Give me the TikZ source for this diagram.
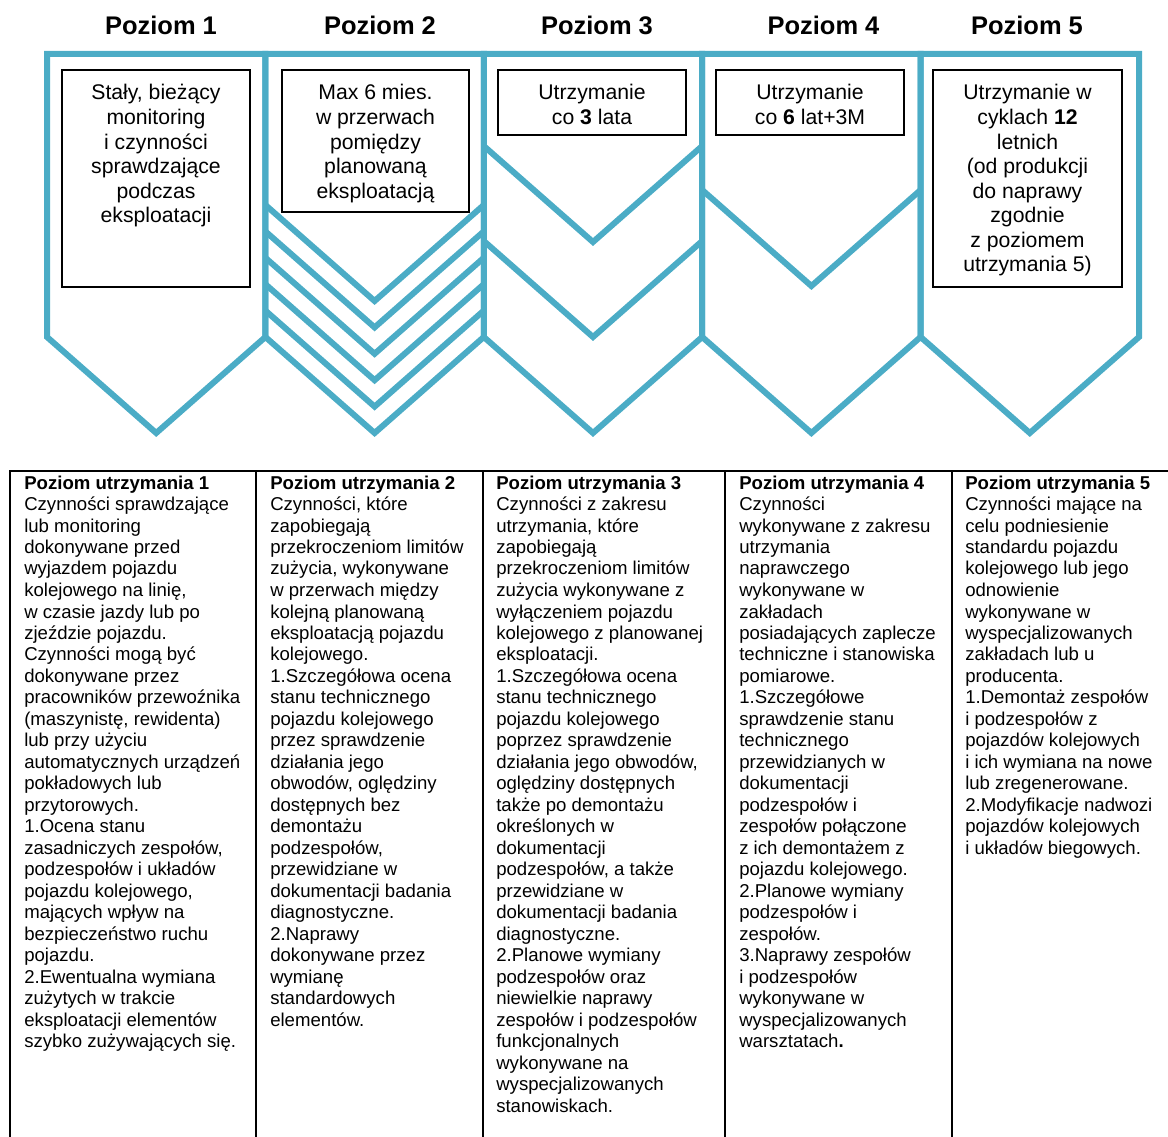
\documentclass[tikz,border=0pt]{standalone}
\usepackage{fontspec}
\setmainfont{Liberation Sans}
\definecolor{tealc}{HTML}{4BACC6}
\begin{document}
\begin{tikzpicture}[x=0.75pt,y=-0.75pt,
  pent/.style={draw=tealc, line width=4.5pt, line join=miter},
  chev/.style={draw=tealc, line width=4.5pt, line join=miter},
  tbox/.style={draw=black, line width=1.5pt},
  tabline/.style={draw=black, line width=1.6pt},
  head/.style={anchor=base, inner sep=0pt, font=\fontsize{19.1pt}{22pt}\selectfont\bfseries},
  boxtxt/.style={anchor=base, inner sep=0pt},
  coltxt/.style={anchor=base west, inner sep=0pt}]
\useasboundingbox (0,0) rectangle (1168,1137);
% headers
\node[head] (h1) at (161,35) {Poziom 1};
\node[head] (h2) at (380,35) {Poziom 2};
\node[head] (h3) at (597,35) {Poziom 3};
\node[head] (h4) at (823.5,35) {Poziom 4};
\node[head] (h5) at (1027,35) {Poziom 5};
% pentagons
\foreach \i in {0,...,4}{
  \pgfmathsetmacro{\xa}{47+218.4*\i}
  \pgfmathsetmacro{\xb}{47+218.4*(\i+1)}
  \pgfmathsetmacro{\xc}{47+218.4*(\i+0.5)}
  \draw[pent] (\xa,54) -- (\xb,54) -- (\xb,337) -- (\xc,433) -- (\xa,337) -- cycle;
}
% chevrons level 2
\foreach \s in {205,231.4,257.8,284.2,310.6}{
  \draw[chev] (265.4,\s) -- (374.6,\s+96) -- (483.8,\s);
}
% chevrons level 3
\foreach \s in {146,241}{
  \draw[chev] (483.8,\s) -- (593,\s+96) -- (702.2,\s);
}
% chevron level 4
\draw[chev] (702.2,190) -- (811.4,286) -- (920.6,190);
% boxes
\draw[tbox] (62,70) rectangle (250,287);
\draw[tbox] (282,70) rectangle (469,212);
\draw[tbox] (498,70) rectangle (686,135);
\draw[tbox] (716,70) rectangle (904,135);
\draw[tbox] (933,70) rectangle (1122,287);
\newcommand{\bxfont}{\fontsize{15.9pt}{18.4pt}\selectfont}
\node[boxtxt] (b1) at (156,100) {\parbox[t]{200pt}{\bxfont\centering Stały, bieżący\\monitoring\\i czynności\\sprawdzające\\podczas\\eksploatacji}};
\node[boxtxt] (b2) at (375.5,100) {\parbox[t]{200pt}{\bxfont\centering Max 6 mies.\\w przerwach\\pomiędzy\\planowaną\\eksploatacją}};
\node[boxtxt] (b3) at (592,100) {\parbox[t]{200pt}{\bxfont\centering Utrzymanie\\co \textbf{3} lata}};
\node[boxtxt] (b4) at (810,100) {\parbox[t]{200pt}{\bxfont\centering Utrzymanie\\co \textbf{6} lat+3M}};
\node[boxtxt] (b5) at (1027.5,100) {\parbox[t]{200pt}{\bxfont\centering Utrzymanie w\\cyklach \textbf{12}\\letnich\\(od produkcji\\do naprawy\\zgodnie\\z poziomem\\utrzymania 5)}};
% table
\draw[tabline] (10,1137) -- (10,471) -- (1168,471);
\draw[tabline] (256,471) -- (256,1137);
\draw[tabline] (483,471) -- (483,1137);
\draw[tabline] (725,471) -- (725,1137);
\draw[tabline] (952,471) -- (952,1137);
\newcommand{\tbfont}{\fontsize{13.95pt}{16.125pt}\selectfont}
\node[coltxt] (c1) at (24,489) {\parbox[t]{240pt}{\tbfont\textbf{Poziom utrzymania 1}\\Czynności sprawdzające\\lub monitoring\\dokonywane przed\\wyjazdem pojazdu\\kolejowego na linię,\\w czasie jazdy lub po\\zjeździe pojazdu.\\Czynności mogą być\\dokonywane przez\\pracowników przewoźnika\\(maszynistę, rewidenta)\\lub przy użyciu\\automatycznych urządzeń\\pokładowych lub\\przytorowych.\\1.Ocena stanu\\zasadniczych zespołów,\\podzespołów i układów\\pojazdu kolejowego,\\mających wpływ na\\bezpieczeństwo ruchu\\pojazdu.\\2.Ewentualna wymiana\\zużytych w trakcie\\eksploatacji elementów\\szybko zużywających się.}};
\node[coltxt] (c2) at (270,489) {\parbox[t]{240pt}{\tbfont\textbf{Poziom utrzymania 2}\\Czynności, które\\zapobiegają\\przekroczeniom limitów\\zużycia, wykonywane\\w przerwach między\\kolejną planowaną\\eksploatacją pojazdu\\kolejowego.\\1.Szczegółowa ocena\\stanu technicznego\\pojazdu kolejowego\\przez sprawdzenie\\działania jego\\obwodów, oględziny\\dostępnych bez\\demontażu\\podzespołów,\\przewidziane w\\dokumentacji badania\\diagnostyczne.\\2.Naprawy\\dokonywane przez\\wymianę\\standardowych\\elementów.}};
\node[coltxt] (c3) at (496,489) {\parbox[t]{240pt}{\tbfont\textbf{Poziom utrzymania 3}\\Czynności z zakresu\\utrzymania, które\\zapobiegają\\przekroczeniom limitów\\zużycia wykonywane z\\wyłączeniem pojazdu\\kolejowego z planowanej\\eksploatacji.\\1.Szczegółowa ocena\\stanu technicznego\\pojazdu kolejowego\\poprzez sprawdzenie\\działania jego obwodów,\\oględziny dostępnych\\także po demontażu\\określonych w\\dokumentacji\\podzespołów, a także\\przewidziane w\\dokumentacji badania\\diagnostyczne.\\2.Planowe wymiany\\podzespołów oraz\\niewielkie naprawy\\zespołów i podzespołów\\funkcjonalnych\\wykonywane na\\wyspecjalizowanych\\stanowiskach.}};
\node[coltxt] (c4) at (739,489) {\parbox[t]{240pt}{\tbfont\textbf{Poziom utrzymania 4}\\Czynności\\wykonywane z zakresu\\utrzymania\\naprawczego\\wykonywane w\\zakładach\\posiadających zaplecze\\techniczne i stanowiska\\pomiarowe.\\1.Szczegółowe\\sprawdzenie stanu\\technicznego\\przewidzianych w\\dokumentacji\\podzespołów i\\zespołów połączone\\z ich demontażem z\\pojazdu kolejowego.\\2.Planowe wymiany\\podzespołów i\\zespołów.\\3.Naprawy zespołów\\i podzespołów\\wykonywane w\\wyspecjalizowanych\\warsztatach\textbf{.}}};
\node[coltxt] (c5) at (965,489) {\parbox[t]{240pt}{\tbfont\textbf{Poziom utrzymania 5}\\Czynności mające na\\celu podniesienie\\standardu pojazdu\\kolejowego lub jego\\odnowienie\\wykonywane w\\wyspecjalizowanych\\zakładach lub u\\producenta.\\1.Demontaż zespołów\\i podzespołów z\\pojazdów kolejowych\\i ich wymiana na nowe\\lub zregenerowane.\\2.Modyfikacje nadwozi\\pojazdów kolejowych\\i układów biegowych.}};
\end{tikzpicture}
\end{document}
